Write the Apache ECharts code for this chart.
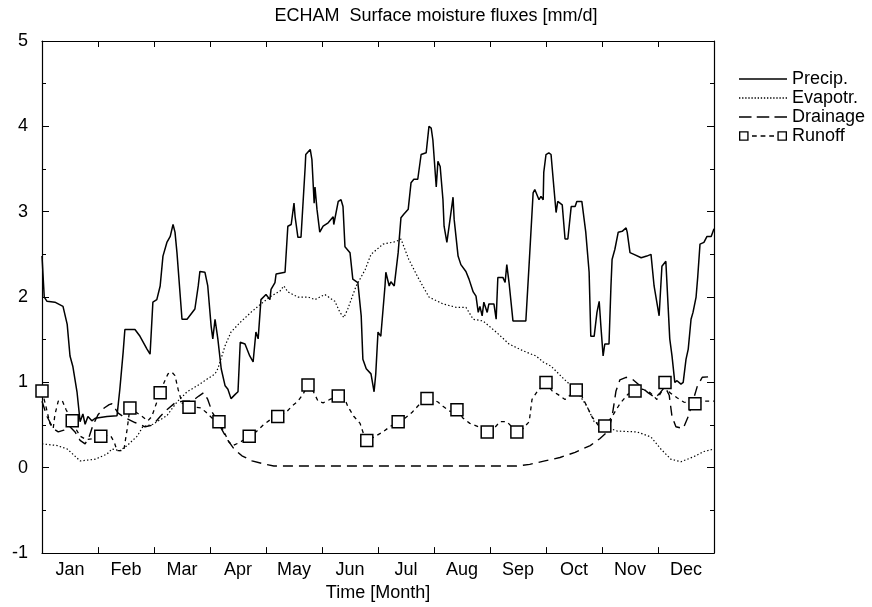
<!DOCTYPE html>
<html>
<head>
<meta charset="utf-8">
<script src="https://cdn.jsdelivr.net/npm/echarts@6/dist/echarts.min.js"></script>
<style>
html,body{margin:0;padding:0;background:#fff;}
#chart{width:872px;height:607px;}
</style>
</head>
<body>
<div id="chart"></div>
<script>
// ---- data (x in months from 1 Jan, 0..12) ----
const monthLabels = ['Jan','Feb','Mar','Apr','May','Jun','Jul','Aug','Sep','Oct','Nov','Dec'];

const precip = [
[0,2.48],[0.04,2.0],[0.09,1.95],[0.23,1.94],[0.375,1.89],[0.45,1.68],[0.5,1.31],[0.55,1.19],[0.625,0.89],[0.68,0.54],
[0.73,0.63],[0.77,0.51],[0.82,0.6],[0.89,0.55],[0.95,0.58],[1.16,0.6],[1.34,0.61],[1.39,0.92],[1.45,1.36],[1.48,1.62],
[1.66,1.62],[1.75,1.54],[1.875,1.39],[1.93,1.33],[1.98,1.94],[2.05,1.97],[2.11,2.13],[2.16,2.48],[2.23,2.64],[2.29,2.71],
[2.34,2.85],[2.375,2.76],[2.41,2.52],[2.5,1.74],[2.59,1.74],[2.73,1.86],[2.79,2.13],[2.82,2.3],[2.91,2.29],[2.96,2.13],
[3.02,1.66],[3.05,1.51],[3.09,1.74],[3.14,1.51],[3.2,1.16],[3.27,0.96],[3.32,0.92],[3.375,0.81],[3.45,0.86],[3.5,0.89],
[3.54,1.47],[3.625,1.45],[3.71,1.31],[3.77,1.24],[3.82,1.59],[3.86,1.51],[3.91,1.97],[4.0,2.03],[4.07,1.97],[4.09,2.09],
[4.16,2.17],[4.18,2.27],[4.34,2.29],[4.39,2.83],[4.45,2.85],[4.5,3.1],[4.52,2.94],[4.57,2.7],[4.625,2.7],[4.7,3.53],
[4.71,3.67],[4.79,3.73],[4.82,3.61],[4.86,3.1],[4.875,3.29],[4.91,3.03],[4.96,2.76],[5.02,2.83],[5.11,2.87],[5.2,2.94],
[5.21,2.85],[5.29,3.12],[5.34,3.14],[5.375,3.06],[5.41,2.59],[5.5,2.52],[5.55,2.21],[5.64,2.17],[5.7,1.78],[5.73,1.27],
[5.79,1.16],[5.875,1.1],[5.93,0.89],[5.96,1.1],[6.0,1.59],[6.05,1.54],[6.125,2.13],[6.14,2.29],[6.2,2.13],[6.23,2.18],
[6.29,2.13],[6.36,2.52],[6.41,2.93],[6.46,2.97],[6.54,3.03],[6.59,3.34],[6.64,3.38],[6.71,3.38],[6.77,3.67],[6.86,3.69],
[6.91,4.0],[6.95,3.98],[6.98,3.84],[7.04,3.29],[7.07,3.59],[7.11,3.53],[7.16,3.14],[7.18,2.83],[7.23,2.64],[7.27,2.83],
[7.34,3.17],[7.36,2.91],[7.43,2.48],[7.48,2.38],[7.57,2.3],[7.625,2.21],[7.7,2.06],[7.75,2.01],[7.79,1.82],[7.82,1.89],
[7.86,1.78],[7.89,1.94],[7.95,1.82],[7.98,1.92],[8.07,1.92],[8.11,1.74],[8.14,2.23],[8.23,2.23],[8.27,2.17],[8.3,2.38],
[8.34,2.17],[8.41,1.72],[8.64,1.72],[8.7,2.4],[8.77,3.22],[8.8,3.26],[8.875,3.14],[8.91,3.18],[8.95,3.14],[8.96,3.46],
[9.0,3.67],[9.05,3.69],[9.09,3.67],[9.14,3.29],[9.18,2.99],[9.21,3.12],[9.29,3.08],[9.34,2.68],[9.39,2.68],[9.45,3.06],
[9.52,3.06],[9.55,3.12],[9.64,3.12],[9.71,2.76],[9.77,2.29],[9.8,1.54],[9.86,1.54],[9.91,1.82],[9.95,1.95],[9.98,1.66],
[10.02,1.31],[10.05,1.45],[10.125,1.45],[10.16,2.13],[10.18,2.44],[10.23,2.56],[10.29,2.76],[10.36,2.77],[10.43,2.81],[10.45,2.76],
[10.5,2.52],[10.57,2.5],[10.7,2.46],[10.8,2.48],[10.875,2.5],[10.93,2.13],[11.02,1.78],[11.07,2.36],[11.14,2.42],[11.16,2.4],
[11.21,1.51],[11.25,1.31],[11.3,1.0],[11.34,1.02],[11.41,0.98],[11.45,1.0],[11.5,1.27],[11.54,1.39],[11.59,1.74],[11.625,1.82],
[11.68,2.0],[11.71,2.24],[11.75,2.62],[11.82,2.64],[11.875,2.71],[11.95,2.71],[12,2.8]
];

const evapotr = [
[0,0.28],[0.27,0.26],[0.45,0.22],[0.55,0.16],[0.68,0.08],[0.95,0.1],[1.16,0.16],[1.25,0.22],[1.39,0.2],[1.52,0.26],
[1.7,0.37],[1.8,0.48],[1.98,0.51],[2.23,0.61],[2.41,0.77],[2.59,0.89],[2.77,0.96],[2.95,1.04],[3.09,1.1],[3.14,1.16],
[3.27,1.43],[3.375,1.59],[3.55,1.71],[3.73,1.82],[3.91,1.92],[4.09,2.01],[4.25,2.07],[4.32,2.13],[4.39,2.06],[4.57,2.0],
[4.75,2.0],[4.875,1.97],[5.05,2.03],[5.23,1.95],[5.32,1.82],[5.39,1.76],[5.46,1.86],[5.61,2.13],[5.77,2.32],[5.875,2.5],
[6.09,2.62],[6.32,2.65],[6.41,2.68],[6.55,2.44],[6.73,2.21],[6.91,2.0],[7.16,1.92],[7.39,1.88],[7.57,1.88],[7.7,1.74],
[7.875,1.72],[8.11,1.59],[8.34,1.45],[8.59,1.37],[8.82,1.31],[8.95,1.24],[9.09,1.19],[9.32,1.04],[9.55,0.9],[9.73,0.72],
[9.86,0.54],[10.07,0.48],[10.27,0.43],[10.625,0.42],[10.875,0.36],[11.05,0.22],[11.23,0.1],[11.41,0.07],[11.64,0.13],[11.82,0.19],
[12,0.22]
];

const drainage = [
[0,0.78],[0.09,0.6],[0.2,0.46],[0.29,0.42],[0.39,0.44],[0.5,0.48],[0.59,0.42],[0.68,0.32],[0.77,0.28],[0.84,0.36],
[0.91,0.5],[1.0,0.62],[1.11,0.7],[1.2,0.74],[1.25,0.75],[1.36,0.64],[1.5,0.58],[1.66,0.53],[1.84,0.48],[1.98,0.5],
[2.11,0.6],[2.23,0.68],[2.375,0.76],[2.52,0.78],[2.68,0.78],[2.8,0.84],[2.89,0.88],[2.96,0.8],[3.04,0.65],[3.125,0.56],
[3.21,0.45],[3.32,0.32],[3.43,0.22],[3.57,0.14],[3.75,0.08],[3.93,0.05],[4.14,0.02],[8.48,0.02],[8.71,0.04],[8.98,0.08],
[9.25,0.12],[9.52,0.18],[9.79,0.26],[9.96,0.34],[10.11,0.43],[10.18,0.6],[10.25,0.9],[10.32,1.03],[10.43,1.06],[10.54,1.04],
[10.68,0.96],[10.82,0.88],[10.95,0.82],[11.04,0.88],[11.125,0.95],[11.2,0.85],[11.25,0.6],[11.32,0.48],[11.45,0.46],[11.54,0.6],
[11.61,0.75],[11.7,0.95],[11.79,1.06],[12,1.07]
];

const runoff = [
[0,0.9],[0.07,0.72],[0.14,0.52],[0.2,0.46],[0.23,0.62],[0.29,0.78],[0.36,0.79],[0.43,0.68],[0.54,0.55],[0.61,0.45],
[0.68,0.37],[0.79,0.33],[0.91,0.34],[1.05,0.37],[1.14,0.38],[1.23,0.37],[1.29,0.3],[1.34,0.2],[1.46,0.2],[1.52,0.45],
[1.57,0.7],[1.68,0.65],[1.79,0.6],[1.89,0.55],[1.96,0.6],[2.04,0.75],[2.11,0.88],[2.18,1.0],[2.25,1.1],[2.32,1.12],
[2.375,1.08],[2.43,0.92],[2.5,0.76],[2.625,0.71],[2.75,0.71],[2.84,0.7],[2.93,0.65],[3.04,0.58],[3.16,0.54],[3.25,0.42],
[3.34,0.3],[3.41,0.26],[3.54,0.3],[3.7,0.37],[3.82,0.42],[3.95,0.5],[4.07,0.56],[4.21,0.6],[4.36,0.65],[4.46,0.72],
[4.57,0.78],[4.66,0.86],[4.75,0.97],[4.84,0.9],[4.93,0.78],[5.02,0.76],[5.14,0.8],[5.29,0.84],[5.375,0.86],[5.46,0.72],
[5.57,0.6],[5.68,0.52],[5.75,0.38],[5.8,0.32],[5.93,0.36],[6.09,0.42],[6.21,0.48],[6.36,0.54],[6.48,0.58],[6.61,0.65],
[6.75,0.75],[6.875,0.81],[6.98,0.8],[7.07,0.77],[7.16,0.72],[7.29,0.66],[7.41,0.68],[7.52,0.58],[7.64,0.52],[7.79,0.48],
[7.95,0.42],[8.07,0.46],[8.18,0.54],[8.3,0.54],[8.39,0.48],[8.48,0.42],[8.59,0.46],[8.7,0.54],[8.75,0.8],[8.84,0.89],
[9.0,1.0],[9.11,0.9],[9.21,0.86],[9.34,0.8],[9.43,0.85],[9.54,0.91],[9.625,0.86],[9.73,0.72],[9.82,0.6],[9.93,0.5],
[10.05,0.49],[10.18,0.6],[10.32,0.75],[10.46,0.86],[10.59,0.9],[10.73,0.92],[10.86,0.88],[10.98,0.8],[11.07,0.9],[11.125,1.0],
[11.21,0.88],[11.34,0.82],[11.46,0.77],[11.57,0.76],[11.66,0.75],[11.8,0.78],[12,0.78]
];

// positions (months) of the runoff square markers
const runoffSquares = [0,0.54,1.05,1.57,2.11,2.625,3.16,3.7,4.21,4.75,5.29,5.8,6.36,6.875,7.41,7.95,8.48,9.0,9.54,10.05,10.59,11.125,11.66];

// ---- chart ----
const FONT = '"Liberation Sans", Arial, Helvetica, sans-serif';
const chart = echarts.init(document.getElementById('chart'), null, {renderer: 'canvas'});

// legend icons
let dots = '';
for (let i = 0; i < 16; i++) dots += 'M' + (i * 3) + ' 0h1.3v1.3h-1.3Z';
const iconSolid = 'path://M0 0h46v1.4h-46Z';
const iconDotted = 'path://' + dots;
const iconDash = 'path://M0 0h12v1.4h-12ZM17 0h12v1.4h-12ZM34 0h12v1.4h-12Z';
const sq = (x) => 'M' + x + ' 0h10v10h-10Z' + 'M' + (x + 1.4) + ' 1.4v7.2h7.2v-7.2Z';
const iconRunoff = 'path://' + sq(0) + 'M13.5 4.3h5v1.4h-5ZM22.5 4.3h5v1.4h-5ZM31.5 4.3h5v1.4h-5Z' + sq(40);

const runoffData = runoff.map(p => {
  const isSq = runoffSquares.indexOf(p[0]) >= 0;
  return isSq ? {value: p, symbol: 'rect', symbolSize: 12} : {value: p, symbol: 'none'};
});

const axisLineStyle = {color: '#000', width: 1.2};

chart.setOption({
  animation: false,
  backgroundColor: '#fff',
  title: {
    text: 'ECHAM  Surface moisture fluxes [mm/d]',
    left: 'center', top: 2,
    textStyle: {fontFamily: FONT, fontSize: 18, fontWeight: 'normal', color: '#000'}
  },
  grid: {left: 42, right: 158, top: 41, bottom: 52, containLabel: false},
  legend: {
    orient: 'vertical', left: 734, top: 65,
    itemWidth: 48, itemHeight: 12, itemGap: 1,
    selectedMode: false,
    textStyle: {fontFamily: FONT, fontSize: 18, color: '#000'},
    itemStyle: {color: '#000', borderWidth: 0},
    data: [
      {name: 'Precip.', icon: iconSolid},
      {name: 'Evapotr.', icon: iconDotted},
      {name: 'Drainage', icon: iconDash},
      {name: 'Runoff', icon: iconRunoff}
    ]
  },
  xAxis: [
    { // data axis, ticks at month boundaries
      type: 'value', position: 'bottom', min: 0, max: 12, interval: 1,
      axisLine: {show: true, onZero: false, lineStyle: axisLineStyle},
      axisTick: {show: true, inside: true, length: 6, lineStyle: {color: '#000'}},
      axisLabel: {show: false}, splitLine: {show: false}
    },
    { // top frame
      type: 'value', position: 'top', min: 0, max: 12, interval: 1,
      axisLine: {show: true, onZero: false, lineStyle: axisLineStyle},
      axisTick: {show: true, inside: true, length: 6, lineStyle: {color: '#000'}},
      axisLabel: {show: false}, splitLine: {show: false}
    },
    { // month labels, centred in each month
      type: 'category', position: 'bottom', data: monthLabels, boundaryGap: true,
      axisLine: {show: false}, axisTick: {show: false}, splitLine: {show: false},
      axisLabel: {fontFamily: FONT, fontSize: 18, color: '#000', margin: 8},
      name: 'Time [Month]', nameLocation: 'middle', nameGap: 28,
      nameTextStyle: {fontFamily: FONT, fontSize: 18, color: '#000'}
    }
  ],
  yAxis: [
    {
      type: 'value', position: 'left', min: -1, max: 5, interval: 1,
      axisLine: {show: true, onZero: false, lineStyle: axisLineStyle},
      axisTick: {show: true, inside: true, length: 7, lineStyle: {color: '#000'}},
      minorTick: {show: true, splitNumber: 2, length: 4, lineStyle: {color: '#000'}},
      axisLabel: {fontFamily: FONT, fontSize: 18, color: '#000', margin: 14},
      splitLine: {show: false}
    },
    {
      type: 'value', position: 'right', min: -1, max: 5, interval: 1,
      axisLine: {show: true, onZero: false, lineStyle: axisLineStyle},
      axisTick: {show: true, inside: true, length: 7, lineStyle: {color: '#000'}},
      minorTick: {show: true, splitNumber: 2, length: 4, lineStyle: {color: '#000'}},
      axisLabel: {show: false}, splitLine: {show: false}
    }
  ],
  series: [
    {
      name: 'Precip.', type: 'line', xAxisIndex: 0, yAxisIndex: 0,
      data: precip, showSymbol: false, symbol: 'none',
      lineStyle: {color: '#000', width: 1.5, type: 'solid'},
      itemStyle: {color: '#000'}
    },
    {
      name: 'Evapotr.', type: 'line', xAxisIndex: 0, yAxisIndex: 0,
      data: evapotr, showSymbol: false, symbol: 'none',
      lineStyle: {color: '#000', width: 1.2, type: [1.4, 2.2]},
      itemStyle: {color: '#000'}
    },
    {
      name: 'Drainage', type: 'line', xAxisIndex: 0, yAxisIndex: 0,
      data: drainage, showSymbol: false, symbol: 'none',
      lineStyle: {color: '#000', width: 1.4, type: [10, 6]},
      itemStyle: {color: '#000'}
    },
    {
      name: 'Runoff', type: 'line', xAxisIndex: 0, yAxisIndex: 0,
      data: runoffData, showSymbol: true, symbol: 'none',
      lineStyle: {color: '#000', width: 1.3, type: [4, 4]},
      itemStyle: {color: '#fff', borderColor: '#000', borderWidth: 1.5},
      z: 5
    }
  ]
});
</script>
</body>
</html>
